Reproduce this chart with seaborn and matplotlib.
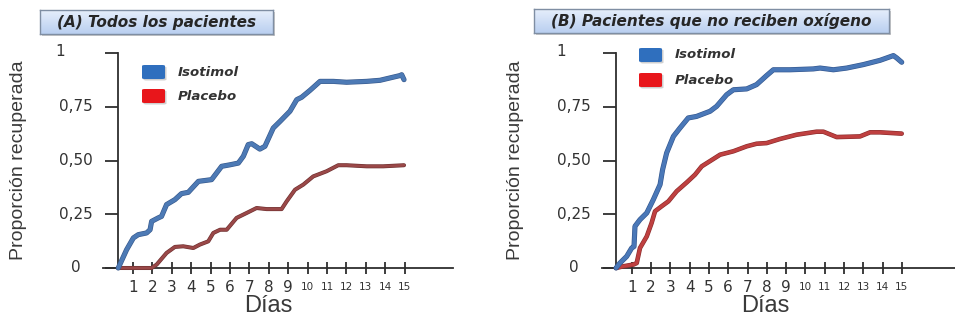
import matplotlib
matplotlib.use("Agg")
import numpy as np
import pandas as pd
import matplotlib.pyplot as plt
import seaborn as sns
import matplotlib.patheffects as pe
from matplotlib.patches import FancyBboxPatch, Rectangle
from matplotlib import font_manager as fm
from matplotlib.transforms import ScaledTranslation

# ---------------- data ----------------
series_names = ["Isotimol", "Placebo"]
panel_titles = ["(A) Todos los pacientes", "(B) Pacientes que no reciben oxígeno"]
x_label = "Días"
y_label = "Proporción recuperada"
y_ticks = [0, 0.25, 0.5, 0.75, 1]
y_tick_labels = ["0", "0,25", "0,50", "0,75", "1"]
x_ticks = list(range(1, 16))
x_tick_labels = [str(d) for d in x_ticks]

a_iso_day = [0.24, 0.67, 1.02, 1.27, 1.70, 1.88, 1.96, 2.30, 2.47, 2.73, 3.16, 3.50, 3.85, 4.37,
             4.63, 5.05, 5.57, 6.00, 6.43, 6.69, 6.94, 7.12, 7.54, 7.80, 8.23, 8.58, 9.09, 9.44,
             9.69, 10.12, 10.64, 11.33, 12.01, 13.04, 13.73, 14.76, 14.85, 14.97]
a_iso_val = [0.0, 0.085, 0.14, 0.155, 0.163, 0.178, 0.217, 0.233, 0.24, 0.295, 0.318, 0.346, 0.352,
             0.403, 0.406, 0.411, 0.473, 0.48, 0.488, 0.52, 0.574, 0.578, 0.553, 0.566, 0.651, 0.682,
             0.729, 0.783, 0.794, 0.826, 0.868, 0.868, 0.864, 0.868, 0.873, 0.895, 0.899, 0.876]

a_pla_day = [0.24, 1.02, 1.96, 2.22, 2.73, 3.16, 3.59, 4.11, 4.45, 4.88, 5.14, 5.49, 5.83, 6.34,
             6.86, 7.37, 7.89, 8.66, 8.92, 9.35, 9.78, 10.29, 10.98, 11.58, 12.01, 13.04, 13.90, 14.97]
a_pla_val = [0.0, 0.0, 0.0, 0.016, 0.07, 0.098, 0.101, 0.093, 0.109, 0.124, 0.163, 0.178, 0.178,
             0.233, 0.256, 0.279, 0.274, 0.274, 0.31, 0.364, 0.388, 0.426, 0.45, 0.478, 0.478,
             0.473, 0.473, 0.478]

b_iso_day = [0.19, 0.39, 0.74, 1.00, 1.12, 1.17, 1.43, 1.78, 2.12, 2.47, 2.60, 2.81, 3.16, 3.50,
             3.93, 4.36, 5.06, 5.40, 5.92, 6.27, 6.96, 7.47, 7.99, 8.34, 9.20, 10.41, 10.76, 11.45,
             12.14, 13.00, 13.87, 14.56, 14.73, 14.99]
b_iso_val = [0.0, 0.023, 0.054, 0.093, 0.10, 0.194, 0.225, 0.256, 0.318, 0.388, 0.457, 0.535,
             0.612, 0.651, 0.698, 0.705, 0.729, 0.752, 0.806, 0.829, 0.833, 0.853, 0.895, 0.922,
             0.922, 0.926, 0.93, 0.922, 0.93, 0.946, 0.966, 0.988, 0.977, 0.957]

b_pla_day = [0.19, 0.57, 1.09, 1.26, 1.43, 1.78, 2.03, 2.21, 2.55, 2.90, 3.33, 3.85, 4.28, 4.63,
             5.23, 5.58, 6.27, 6.96, 7.47, 7.99, 8.68, 9.55, 10.58, 10.93, 11.62, 12.83, 13.35,
             13.87, 14.99]
b_pla_val = [0.0, 0.008, 0.016, 0.023, 0.093, 0.147, 0.209, 0.264, 0.287, 0.31, 0.357, 0.398,
             0.434, 0.473, 0.507, 0.527, 0.543, 0.566, 0.578, 0.581, 0.60, 0.62, 0.634, 0.634,
             0.609, 0.612, 0.631, 0.631, 0.625]

# ---------------- style ----------------
sns.set_theme(style="white")
plt.rcParams["font.family"] = ["Liberation Sans", "DejaVu Sans"]

installed = {f.name for f in fm.fontManager.ttflist}
if "Liberation Sans Narrow" in installed:
    ylab_family, ylab_size = ["Liberation Sans Narrow", "DejaVu Sans"], 17
else:
    ylab_family, ylab_size = ["Liberation Sans", "DejaVu Sans"], 14

W, H = 955, 322
fig = plt.figure(figsize=(W / 100, H / 100), dpi=100)

def fx(x):
    return x / W

def fy(y):
    return 1 - y / H

AX_COL = "#2e2e2e"
TXT_COL = "#333333"
LEG_BLUE = "#2f6fbe"
LEG_RED = "#e8161b"

panels = [
    dict(ax_px=(103, 453), day0=113.6, scale=19.4, spine_x=0.23,
         iso=(a_iso_day, a_iso_val), pla=(a_pla_day, a_pla_val),
         iso_col="#4d7ab5", iso_edge="#37598c", pla_col="#9a4848", pla_edge="#6e3030", pla_lw=2.0,
         title_box=(40, 273, 10, 34), leg_x=142, leg_y=(65, 89), leg_txt_x=178,
         ylab_x=19, xlab_x=268, one_shift=-16),
    dict(ax_px=(601.7, 955), day0=612.4, scale=19.3, spine_x=0.19,
         iso=(b_iso_day, b_iso_val), pla=(b_pla_day, b_pla_val),
         iso_col="#4a78b8", iso_edge="#34578e", pla_col="#bf4040", pla_edge="#8a2c2c", pla_lw=2.4,
         title_box=(534, 889, 9, 33), leg_x=639, leg_y=(48, 73), leg_txt_x=675,
         ylab_x=515, xlab_x=765, one_shift=-13),
]

y0_px, y1_px = 268, 53

for i, p in enumerate(panels):
    xl, xr = p["ax_px"]
    ax = fig.add_axes([fx(xl), fy(y0_px), (xr - xl) / W, (y0_px - y1_px) / H])
    ax.set_facecolor("none")
    ax.set_xlim((xl - p["day0"]) / p["scale"], (xr - p["day0"]) / p["scale"])
    ax.set_ylim(0, 1)

    df_iso = pd.DataFrame({"day": p["iso"][0], "prop": p["iso"][1]})
    df_pla = pd.DataFrame({"day": p["pla"][0], "prop": p["pla"][1]})
    sns.lineplot(data=df_pla, x="day", y="prop", ax=ax, color=p["pla_col"], lw=p["pla_lw"],
                 estimator=None, sort=False)
    sns.lineplot(data=df_iso, x="day", y="prop", ax=ax, color=p["iso_col"], lw=2.8,
                 estimator=None, sort=False)
    ax.lines[0].set_path_effects([pe.Stroke(linewidth=p["pla_lw"] + 0.9, foreground=p["pla_edge"]), pe.Normal()])
    ax.lines[1].set_path_effects([pe.Stroke(linewidth=3.7, foreground=p["iso_edge"]), pe.Normal()])
    for ln in ax.lines:
        ln.set_clip_on(False)
        ln.set_solid_joinstyle("round")
        ln.set_solid_capstyle("round")
    ax.set_xlabel("")
    ax.set_ylabel("")

    # spines
    for s in ["top", "right"]:
        ax.spines[s].set_visible(False)
    ax.spines["left"].set_position(("data", p["spine_x"]))
    ax.spines["left"].set_bounds(0, 1)
    for s in ["left", "bottom"]:
        ax.spines[s].set_color(AX_COL)
        ax.spines[s].set_linewidth(1.3)
        ax.spines[s].set_zorder(1)

    # y ticks
    ax.set_yticks(y_ticks)
    ax.set_yticklabels(y_tick_labels)
    ax.tick_params(axis="y", direction="out", length=9.4, width=1.3, color=AX_COL,
                   pad=21, labelsize=11, labelcolor=TXT_COL, left=True)
    for lab in ax.get_yticklabels():
        lab.set_family("DejaVu Sans")
        lab.set_ha("center")
        lab.set_va("center")
        if lab.get_text() == "1":
            lab.set_transform(lab.get_transform() + ScaledTranslation(p["one_shift"] / 100, 0.02, fig.dpi_scale_trans))

    # x ticks
    ax.set_xticks(x_ticks)
    ax.set_xticklabels(x_tick_labels)
    ax.tick_params(axis="x", direction="inout", length=9, width=1.3, color=AX_COL,
                   pad=4, labelcolor=TXT_COL, bottom=True)
    for lab in ax.get_xticklabels():
        lab.set_family("DejaVu Sans")
        lab.set_fontsize(11 if len(lab.get_text()) == 1 else 7.5)
        lab.set_va("center")
        lab.set_transform(lab.get_transform() + ScaledTranslation(0, -0.075, fig.dpi_scale_trans))

    # axis labels
    fig.text(fx(p["ylab_x"]), fy(160), y_label, rotation=90, ha="center", va="center",
             fontsize=ylab_size, family=ylab_family, color="#3a3a3a")
    fig.text(fx(p["xlab_x"]), fy(295), x_label, ha="center", va="top", fontsize=17, color="#3a3a3a")

    # legend (manual, squares + text)
    cols = [LEG_BLUE, LEG_RED]
    for name, col, ly in zip(series_names, cols, p["leg_y"]):
        shadow = FancyBboxPatch((fx(p["leg_x"] + 1.5), fy(ly + 15.5)), 23 / W, 14 / H,
                                boxstyle="round,pad=0,rounding_size=0.003",
                                transform=fig.transFigure, facecolor="#b0b0b0", edgecolor="none",
                                alpha=0.6, zorder=4)
        sq = FancyBboxPatch((fx(p["leg_x"]), fy(ly + 14)), 23 / W, 14 / H,
                            boxstyle="round,pad=0,rounding_size=0.003",
                            transform=fig.transFigure, facecolor=col, edgecolor="none", zorder=5)
        fig.patches.extend([shadow, sq])
        fig.text(fx(p["leg_txt_x"]), fy(ly + 7), name, ha="left", va="center", fontsize=9.6,
                 family="DejaVu Sans", weight="bold", style="italic", color="#333333")

    # title box with gradient
    bx0, bx1, by0, by1 = p["title_box"]
    sh = Rectangle((fx(bx0 + 2), fy(by1 + 2)), (bx1 - bx0) / W, (by1 - by0) / H,
                   transform=fig.transFigure, facecolor="#c8c8c8", edgecolor="none", zorder=-5)
    fig.patches.append(sh)
    tax = fig.add_axes([fx(bx0), fy(by1), (bx1 - bx0) / W, (by1 - by0) / H])
    tax.set_zorder(3)
    grad = np.linspace(0, 1, 50).reshape(-1, 1)
    cmap = matplotlib.colors.LinearSegmentedColormap.from_list("g", ["#e6eefb", "#b9cff0"])
    tax.imshow(grad, aspect="auto", cmap=cmap, extent=(0, 1, 0, 1), origin="upper")
    tax.set_xlim(0, 1)
    tax.set_ylim(0, 1)
    tax.set_xticks([])
    tax.set_yticks([])
    for s in tax.spines.values():
        s.set_visible(True)
        s.set_color("#7f8ea3")
        s.set_linewidth(1.0)
    tax.text(0.5, 0.5, panel_titles[i], ha="center", va="center", transform=tax.transAxes,
             fontsize=11, family="DejaVu Sans", weight="bold", style="italic", color="#262626")

fig.savefig("out.png", dpi=100)
